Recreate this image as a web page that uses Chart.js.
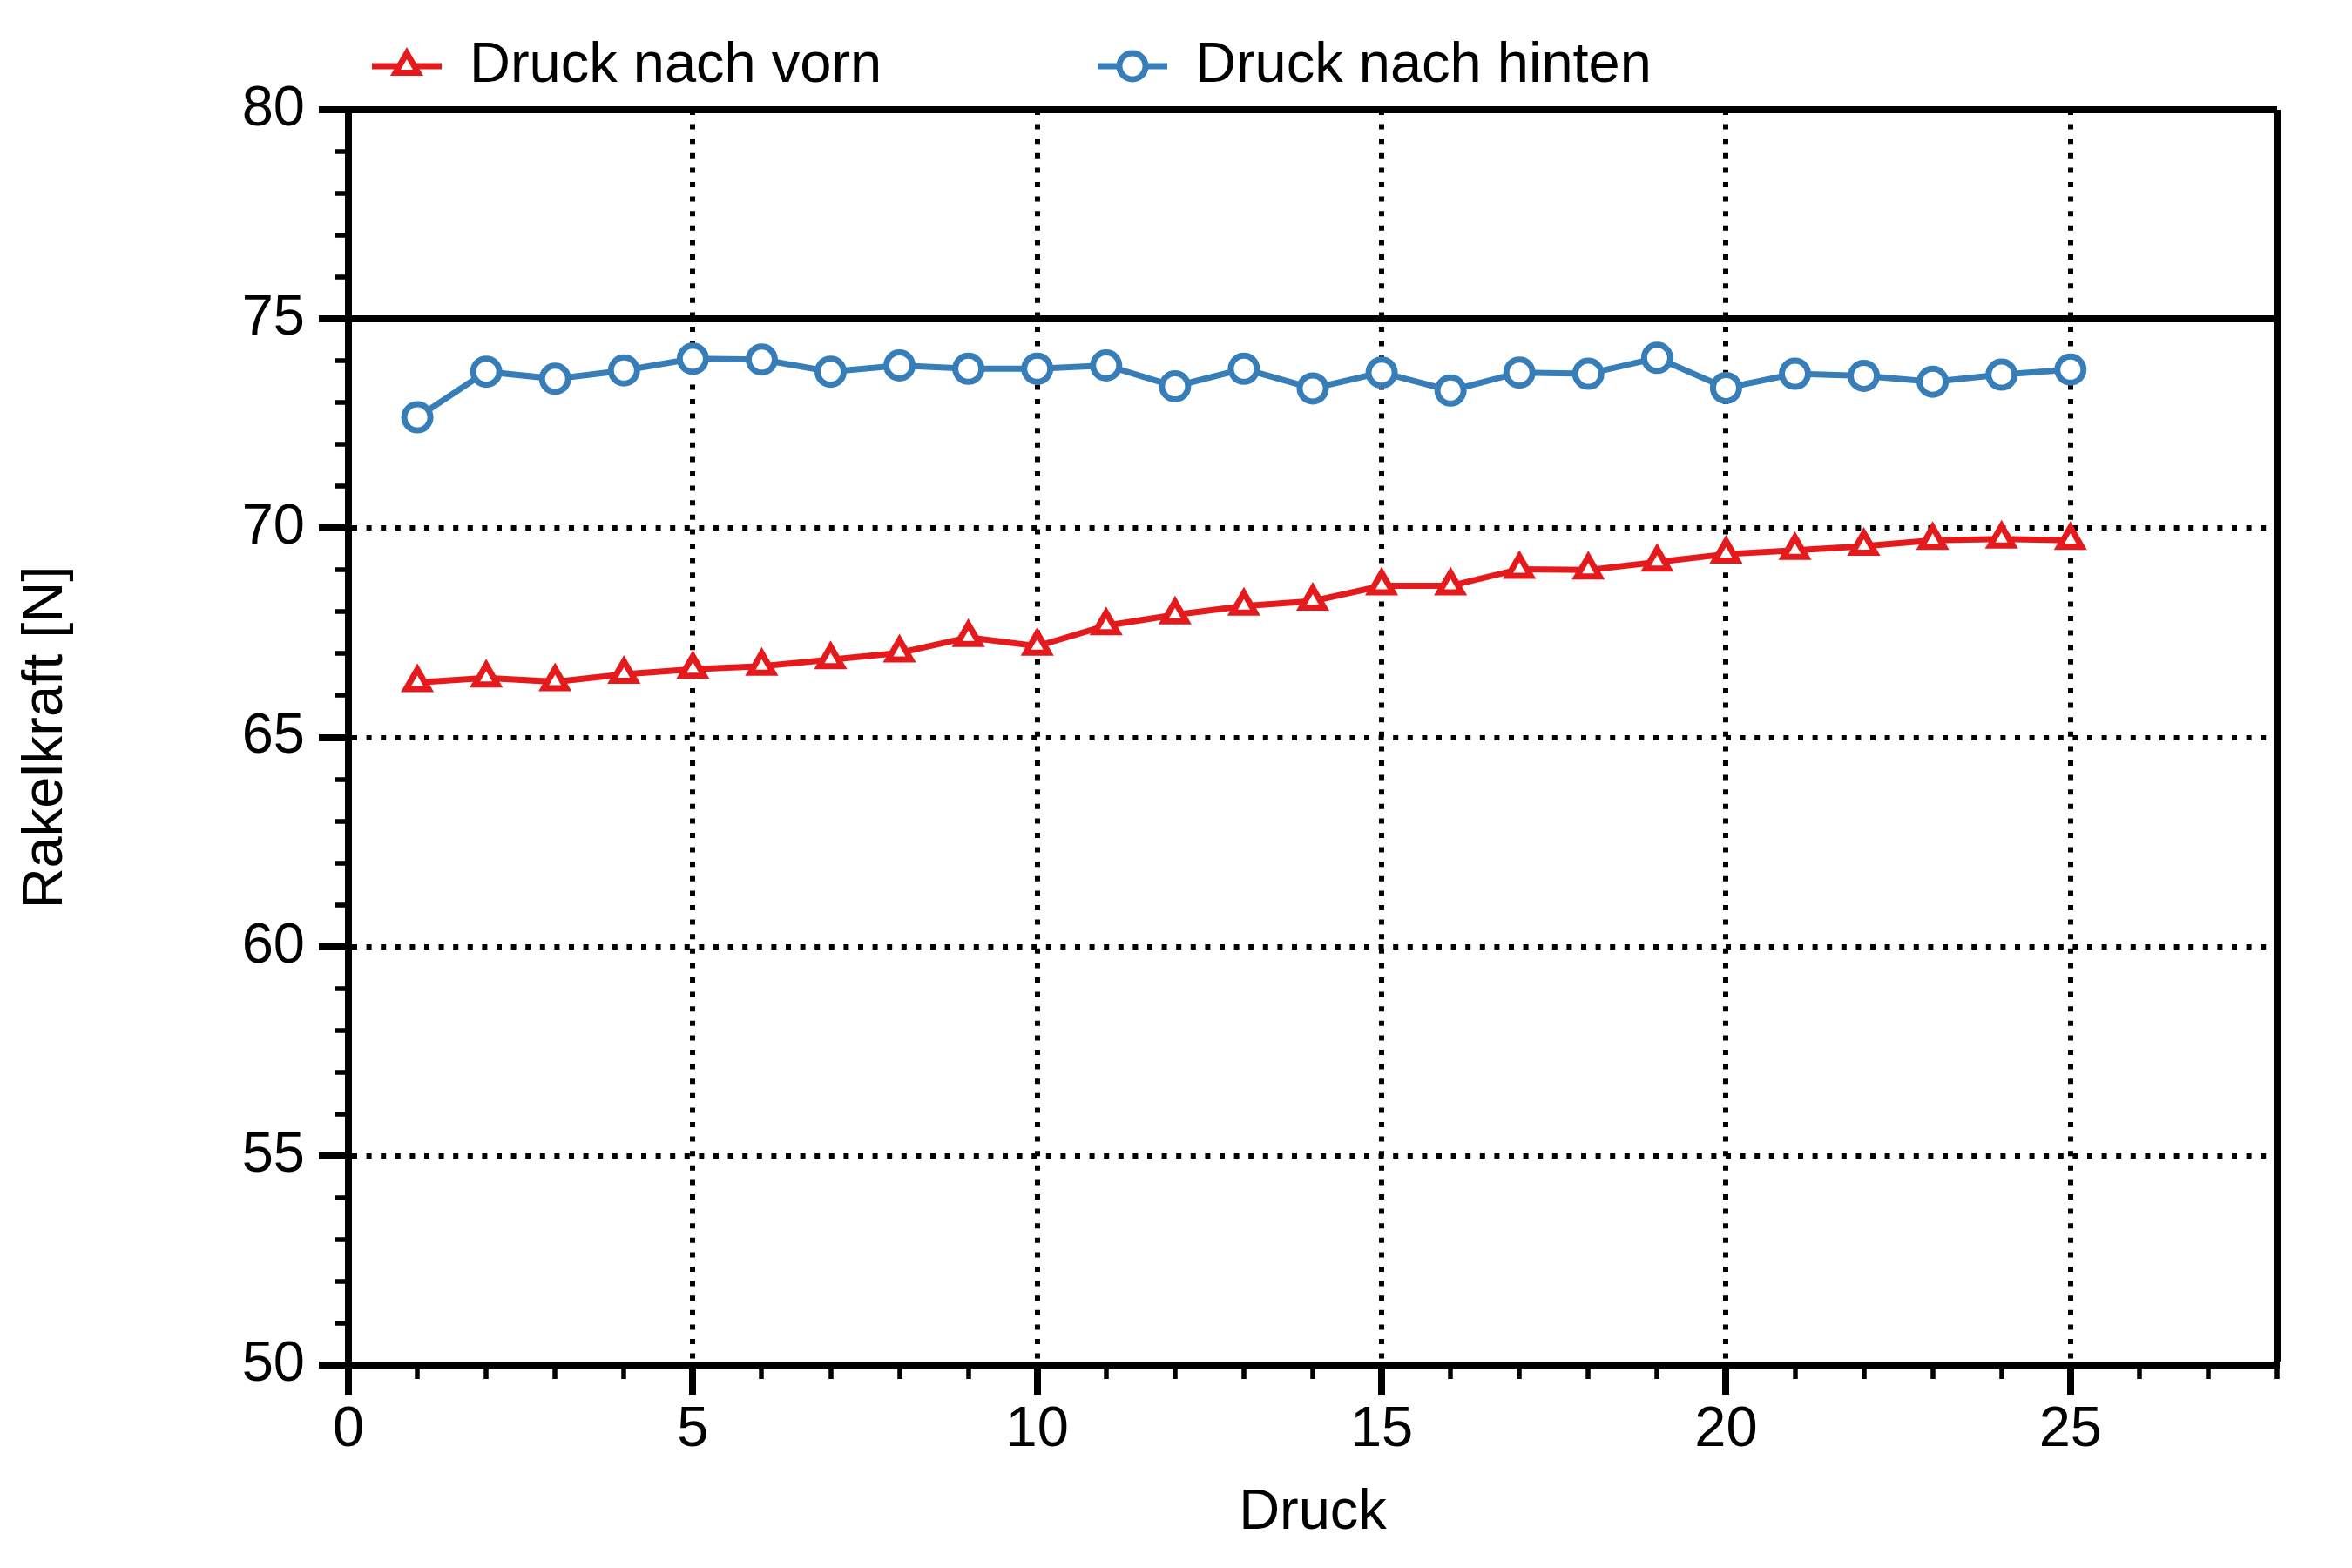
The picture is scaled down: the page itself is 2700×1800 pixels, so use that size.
<!DOCTYPE html>
<html>
<head>
<meta charset="utf-8">
<script src="https://cdn.jsdelivr.net/npm/chart.js@4.4.1/dist/chart.umd.min.js"></script>
<style>
  html, body { margin: 0; padding: 0; background: #fff; }
  canvas { display: block; }
</style>
</head>
<body>
<canvas id="myChart" width="2700" height="1800"></canvas>
<script>
// Druck number on x, Rakelkraft in N on y
const druck = [1, 2, 3, 4, 5, 6, 7, 8, 9, 10, 11, 12, 13, 14, 15, 16, 17, 18, 19, 20, 21, 22, 23, 24, 25];
const vorn = [66.31, 66.42, 66.33, 66.51, 66.63, 66.70, 66.86, 67.02, 67.39, 67.18, 67.67, 67.93, 68.14, 68.26, 68.62, 68.62, 69.02, 69.00, 69.19, 69.38, 69.47, 69.57, 69.71, 69.74, 69.71];
const hinten = [72.65, 73.74, 73.57, 73.77, 74.05, 74.03, 73.74, 73.89, 73.81, 73.81, 73.89, 73.39, 73.81, 73.34, 73.72, 73.29, 73.72, 73.69, 74.07, 73.35, 73.69, 73.64, 73.50, 73.67, 73.79];
const xTickLabels = [0, 5, 10, 15, 20, 25];
const yTickLabels = [50, 55, 60, 65, 70, 75, 80];

const RED = '#e41a1c';
const BLUE = '#377eb8';
const FONT = "'Liberation Sans', Arial, Helvetica, sans-serif";

Chart.defaults.font.family = FONT;
Chart.defaults.font.size = 65;
Chart.defaults.color = '#000';

const isMajorX = v => xTickLabels.includes(v);
const isMajorY = v => yTickLabels.includes(v);
const DOTS = [6, 10.6];

// legend drawn above the plot, like the original
const legendX = [427, 1260];
const topLegend = {
  id: 'topLegend',
  afterDraw(chart) {
    const ctx = chart.ctx;
    const y = 76;
    chart.data.datasets.forEach((ds, i) => {
      const x0 = legendX[i];
      ctx.save();
      ctx.strokeStyle = ds.borderColor;
      ctx.lineWidth = ds.borderWidth;
      ctx.beginPath();
      ctx.moveTo(x0, y);
      ctx.lineTo(x0 + 80, y);
      ctx.stroke();
      ctx.fillStyle = '#fff';
      ctx.strokeStyle = ds.pointBorderColor;
      ctx.lineWidth = ds.pointBorderWidth;
      Chart.helpers.drawPoint(ctx, {
        pointStyle: ds.pointStyle, radius: ds.pointRadius,
        borderWidth: ds.pointBorderWidth, rotation: 0
      }, x0 + 40, y);
      ctx.fillStyle = '#000';
      ctx.font = '65px ' + FONT;
      ctx.textAlign = 'left';
      ctx.textBaseline = 'middle';
      ctx.fillText(ds.label, x0 + 112, y);
      ctx.restore();
    });
  }
};

const ctx = document.getElementById('myChart').getContext('2d');
const myChart = new Chart(ctx, {
  type: 'line',
  data: {
    datasets: [{
      label: 'Druck nach vorn',
      data: druck.map((d, i) => ({ x: d, y: vorn[i] })),
      borderColor: RED,
      backgroundColor: '#fff',
      borderWidth: 7,
      pointStyle: 'triangle',
      pointRadius: 15,
      pointBorderWidth: 7,
      pointBorderColor: RED,
      pointBackgroundColor: '#fff',
      tension: 0
    }, {
      label: 'Druck nach hinten',
      data: druck.map((d, i) => ({ x: d, y: hinten[i] })),
      borderColor: BLUE,
      backgroundColor: '#fff',
      borderWidth: 7,
      pointStyle: 'circle',
      pointRadius: 15,
      pointBorderWidth: 7,
      pointBorderColor: BLUE,
      pointBackgroundColor: '#fff',
      tension: 0
    }]
  },
  options: {
    responsive: false,
    animation: false,
    devicePixelRatio: 1,
    layout: { padding: { top: 126, right: 86, left: 0, bottom: 0 } },
    plugins: { legend: { display: false }, tooltip: { enabled: false } },
    scales: {
      x: {
        type: 'linear',
        min: 0, max: 28,
        afterFit: s => { s.height = 233; },
        ticks: {
          stepSize: 1, autoSkip: false, maxRotation: 0, maxTicksLimit: 100, padding: 2,
          callback: v => isMajorX(v) ? String(v) : ''
        },
        grid: {
          color: c => {
            if (!c.tick) return 'rgba(0,0,0,0)';
            const v = c.tick.value;
            if (v === 28) return '#000';
            return (isMajorX(v) && v !== 0) ? '#000' : 'rgba(0,0,0,0)';
          },
          lineWidth: c => (c.tick && c.tick.value === 28) ? 8 : 6,
          tickLength: 34,
          tickColor: '#000',
          tickWidth: c => (c.tick && isMajorX(c.tick.value)) ? 8 : 5.5,
          tickBorderDash: c => (c.tick && isMajorX(c.tick.value)) ? [] : [12, 100]
        },
        border: {
          color: '#000', width: 8,
          dash: c => (c.tick && c.tick.value !== 28) ? DOTS : []
        },
        title: { display: true, text: 'Druck', padding: { top: 0, bottom: 24 } }
      },
      y: {
        min: 50, max: 80,
        afterFit: s => { s.width = 400; },
        ticks: {
          stepSize: 1, autoSkip: false, maxTicksLimit: 100, padding: 16,
          callback: v => isMajorY(v) ? String(v) : ''
        },
        grid: {
          color: c => {
            if (!c.tick) return 'rgba(0,0,0,0)';
            const v = c.tick.value;
            return (isMajorY(v) && v !== 50) ? '#000' : 'rgba(0,0,0,0)';
          },
          lineWidth: c => (c.tick && (c.tick.value === 75 || c.tick.value === 80)) ? 8 : 6,
          tickLength: 34,
          tickColor: '#000',
          tickWidth: c => (c.tick && isMajorY(c.tick.value)) ? 8 : 5.5,
          tickBorderDash: c => (c.tick && isMajorY(c.tick.value)) ? [] : [0, 18, 16, 100]
        },
        border: {
          color: '#000', width: 8,
          dash: c => (c.tick && c.tick.value !== 75 && c.tick.value !== 80) ? DOTS : []
        },
        title: { display: true, text: 'Rakelkraft [N]', padding: { top: 14, bottom: 0 } }
      }
    }
  },
  plugins: [topLegend]
});
</script>
</body>
</html>
